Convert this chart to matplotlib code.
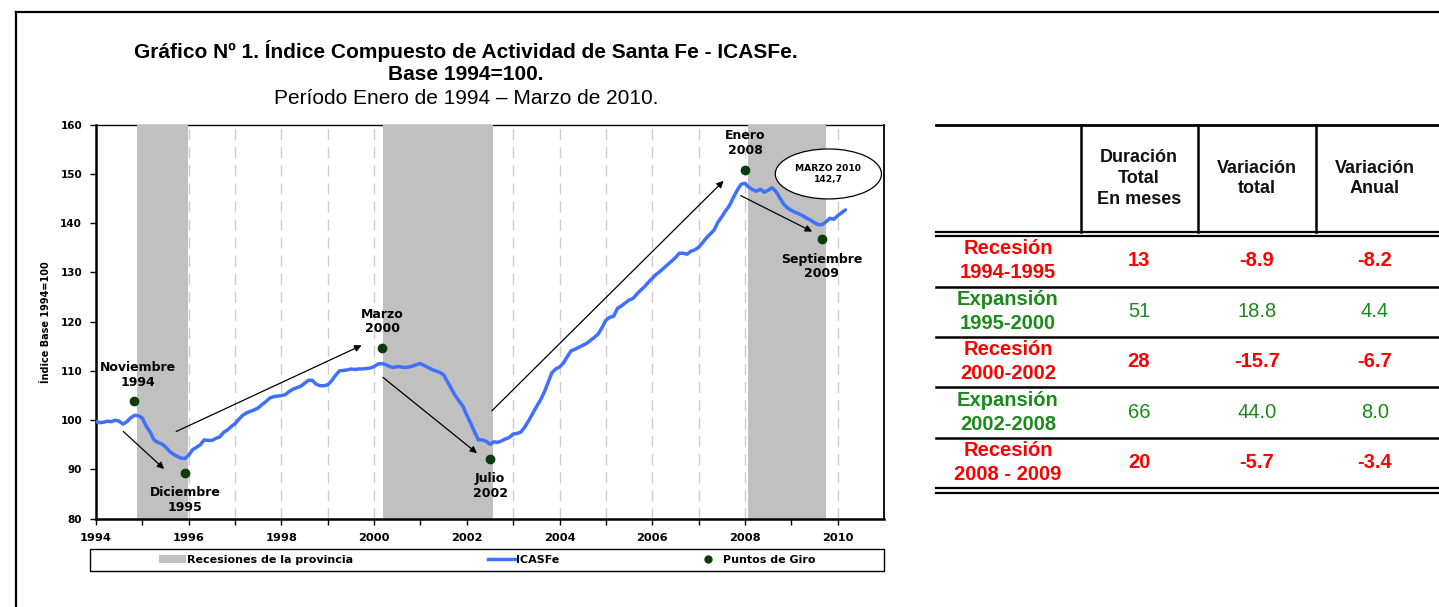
import numpy as np
import matplotlib
matplotlib.use('Agg')
import matplotlib.pyplot as plt
from matplotlib.patches import Ellipse, Rectangle, Patch
from matplotlib.lines import Line2D

W, H = 1439, 607

# ---------------- data ----------------
start_year = 1994
icasfe = [
    # 1994
    99.7, 99.5, 99.6, 99.8, 99.7, 100.0, 99.8, 99.2, 99.7, 100.5, 101.0, 100.9,
    # 1995
    100.4, 98.8, 97.6, 96.0, 95.5, 95.2, 94.6, 93.7, 93.1, 92.7, 92.3, 92.2,
    # 1996
    92.9, 94.0, 94.5, 95.0, 96.0, 95.9, 95.9, 96.3, 96.6, 97.5, 98.0, 98.7,
    # 1997
    99.3, 100.2, 101.0, 101.5, 101.8, 102.1, 102.5, 103.2, 103.8, 104.5, 104.8, 104.9,
    # 1998
    105.0, 105.2, 105.8, 106.3, 106.6, 106.9, 107.5, 108.1, 108.1, 107.3, 107.0, 107.0,
    # 1999
    107.2, 108.0, 109.1, 110.0, 110.1, 110.2, 110.4, 110.3, 110.4, 110.4, 110.5, 110.6,
    # 2000
    110.9, 111.4, 111.5, 111.3, 110.9, 110.7, 110.9, 110.8, 110.7, 110.8, 111.0, 111.3,
    # 2001
    111.5, 111.1, 110.7, 110.3, 110.0, 109.7, 109.2, 107.8, 106.4, 105.0, 103.9, 102.8,
    # 2002
    101.0, 99.4, 97.6, 96.0, 96.0, 95.7, 95.1, 95.6, 95.5, 95.8, 96.2, 96.5,
    # 2003
    97.2, 97.3, 97.6, 98.6, 99.9, 101.3, 102.7, 104.0, 105.6, 107.6, 109.6, 110.4,
    # 2004
    110.8, 111.6, 112.9, 114.1, 114.4, 114.8, 115.2, 115.6, 116.2, 116.8, 117.5, 118.8,
    # 2005
    120.3, 120.9, 121.1, 122.7, 123.2, 123.8, 124.4, 124.7, 125.6, 126.4, 127.1, 128.0,
    # 2006
    128.8, 129.6, 130.2, 130.9, 131.6, 132.3, 133.0, 133.9, 133.9, 133.7, 134.3, 134.6,
    # 2007
    135.1, 136.0, 137.0, 137.8, 138.6, 140.2, 141.3, 142.5, 143.6, 145.2, 146.7, 147.9,
    # 2008
    148.1, 147.3, 146.8, 146.5, 146.9, 146.3, 146.7, 147.2, 146.5, 145.2, 143.9, 143.1,
    # 2009
    142.6, 142.2, 141.9, 141.5, 141.0, 140.6, 140.1, 139.7, 139.7, 140.3, 141.0, 140.8,
    # 2010
    141.5, 142.1, 142.7,
]

rec_start = [1994.88, 2000.20, 2008.06]
rec_end = [1995.98, 2002.56, 2009.74]

turn_x = [1994.83, 1995.91, 2000.17, 2002.50, 2008.00, 2009.66]
turn_y = [104.0, 89.3, 114.6, 92.2, 150.9, 136.7]
turn_labels = ['Noviembre\n1994', 'Diciembre\n1995', 'Marzo\n2000',
               'Julio\n2002', 'Enero\n2008', 'Septiembre\n2009']
label_x = [1994.90, 1995.92, 2000.18, 2002.50, 2008.00, 2009.66]
label_y = [109.2, 83.8, 120.0, 86.6, 156.3, 131.2]

arrow_from = [(1994.59, 97.7), (1995.73, 97.7), (2000.19, 108.7), (2002.54, 101.9), (2007.91, 145.6)]
arrow_to = [(1995.47, 90.1), (1999.73, 115.2), (2002.22, 93.3), (2007.54, 148.6), (2009.45, 138.3)]

last_label = 'MARZO 2010\n142,7'

x_ticks = list(range(1994, 2011))
x_ticklabels = [str(y) if y % 2 == 0 else '' for y in x_ticks]
y_ticks = [80, 90, 100, 110, 120, 130, 140, 150, 160]

table_rows = ['Recesión\n1994-1995', 'Expansión\n1995-2000', 'Recesión\n2000-2002',
              'Expansión\n2002-2008', 'Recesión\n2008 - 2009']
table_kind = ['rec', 'exp', 'rec', 'exp', 'rec']
duracion = [13, 51, 28, 66, 20]
var_total = [-8.9, 18.8, -15.7, 44.0, -5.7]
var_anual = [-8.2, 4.4, -6.7, 8.0, -3.4]
headers = ['Duración\nTotal\nEn meses', 'Variación\ntotal', 'Variación\nAnual']

# ---------------- figure ----------------
fig = plt.figure(figsize=(W / 100, H / 100), dpi=100)
fig.patch.set_facecolor('white')


def fx(px):
    return px / W


def fy(py):
    return 1 - py / H


VERD = 'DejaVu Sans'
ARIAL = 'Liberation Sans'

# outer frame
fig.add_artist(Line2D([fx(16), 1.0], [fy(12), fy(12)], color='black', lw=1.6))
fig.add_artist(Line2D([fx(16), fx(16)], [fy(12), 0.0], color='black', lw=1.6))

# titles
fig.text(fx(466), fy(51), 'Gráfico Nº 1. Índice Compuesto de Actividad de Santa Fe - ICASFe.',
         ha='center', va='center', fontsize=15, fontweight='bold', family=ARIAL)
fig.text(fx(466), fy(74), 'Base 1994=100.', ha='center', va='center',
         fontsize=15, fontweight='bold', family=ARIAL)
fig.text(fx(466), fy(98), 'Período Enero de 1994 – Marzo de 2010.', ha='center', va='center',
         fontsize=15, family=ARIAL)

# axes
left, right, top, bottom = 96, 884, 124.7, 518.7
ax = fig.add_axes([fx(left), fy(bottom), fx(right - left), (bottom - top) / H])
ax.set_xlim(1994, 2011)
ax.set_ylim(80, 160)

xs = start_year + np.arange(len(icasfe)) / 12.0

for yr in x_ticks[1:]:
    ax.axvline(yr, color='#CCCCCC', lw=1.0, ls=(0, (8, 5)), zorder=0.5)
for s, e in zip(rec_start, rec_end):
    ax.axvspan(s, e, color='#C0C0C0', lw=0, zorder=2.6)

ax.plot(xs, icasfe, color='#4070FF', lw=2.5, zorder=4, solid_capstyle='round')
ax.plot(turn_x, turn_y, 'o', color='#0A3D0A', ms=6, zorder=5)

for t, lx, ly in zip(turn_labels, label_x, label_y):
    ax.text(lx, ly, t, ha='center', va='center', fontsize=9, fontweight='bold',
            family=VERD, linespacing=1.15, zorder=6)

for a, b in zip(arrow_from, arrow_to):
    ax.annotate('', xy=b, xytext=a,
                arrowprops=dict(arrowstyle='-|>', color='black', lw=0.9,
                                mutation_scale=10, shrinkA=0, shrinkB=0), zorder=6)

ell = Ellipse((2009.8, 150.0), 2.29, 10.15, facecolor='white', edgecolor='black',
              lw=0.9, zorder=7, clip_on=False)
ax.add_patch(ell)
ax.text(2009.8, 150.0, last_label, ha='center', va='center', fontsize=6.6,
        fontweight='bold', family=VERD, linespacing=1.35, zorder=8)

ax.set_xticks(x_ticks)
ax.set_xticklabels(x_ticklabels, fontsize=8.2, fontweight='bold', family=VERD)
ax.set_yticks(y_ticks)
ax.set_yticklabels([str(v) for v in y_ticks], fontsize=7.5, fontweight='bold', family=VERD)
ax.tick_params(axis='both', direction='out', length=4, width=1, color='black', pad=6)
ax.set_ylabel('Índice Base 1994=100', fontsize=7, fontweight='bold', family=VERD, labelpad=7)

ax.spines['left'].set_linewidth(1.8)
ax.spines['bottom'].set_linewidth(1.8)
ax.spines['top'].set_linewidth(1.0)
ax.spines['right'].set_linewidth(1.3)
ax.spines['bottom'].set_zorder(3)
ax.spines['left'].set_zorder(3)
ax.spines['right'].set_zorder(3)

# legend
fig.add_artist(Rectangle((fx(90), fy(571)), fx(884 - 90), 22 / H, transform=fig.transFigure,
                         facecolor='white', edgecolor='black', lw=1.0))
handles = [Patch(facecolor='#C0C0C0', edgecolor='none'),
           Line2D([0], [0], color='#4070FF', lw=2.5),
           Line2D([0], [0], marker='o', color='#0A3D0A', ls='none', ms=5)]
leg = fig.legend(handles, ['Recesiones de la provincia', 'ICASFe', 'Puntos de Giro'],
                 loc='center', bbox_to_anchor=(fx(487), fy(560)), ncol=3, frameon=False,
                 columnspacing=12.2, handlelength=2.4, handletextpad=0.1,
                 prop=dict(family=VERD, weight='bold', size=8))

# ---------------- table ----------------
tl, tr = 936, 1439
col_x = [1081, 1197.5, 1316]
fig.add_artist(Line2D([fx(tl), fx(tr)], [fy(125), fy(125)], color='black', lw=2.0))
for cx in col_x:
    fig.add_artist(Line2D([fx(cx), fx(cx)], [fy(125), fy(232)], color='black', lw=1.8))
for yy in (231.5, 235.8, 488.3, 492.5):
    fig.add_artist(Line2D([fx(tl), fx(tr)], [fy(yy), fy(yy)], color='black', lw=1.6))
for yy in (286.7, 336.7, 386.7, 437.7):
    fig.add_artist(Line2D([fx(tl), fx(tr)], [fy(yy), fy(yy)], color='black', lw=1.8))

hdr_cx = [1139, 1256.7, 1375]
hdr_cy = [178.5, 178.5, 178.5]
for h, cx, cy in zip(headers, hdr_cx, hdr_cy):
    fig.text(fx(cx), fy(cy), h, ha='center', va='center', fontsize=13, fontweight='bold',
             family=ARIAL, color='#111111', linespacing=1.3)

row_cy = [260.7, 311.7, 361.7, 412.7, 462.7]
RED = '#FF0000'
GREEN = '#1A8A1A'
for lab, kind, d, vt, va, cy in zip(table_rows, table_kind, duracion, var_total, var_anual, row_cy):
    col = RED if kind == 'rec' else GREEN
    wv = 'bold' if kind == 'rec' else 'normal'
    fig.text(fx(1008), fy(cy), lab, ha='center', va='center', fontsize=14.5, fontweight='bold',
             family=ARIAL, color=col, linespacing=1.3)
    for cx, val in zip(hdr_cx, [str(d), f'{vt:.1f}', f'{va:.1f}']):
        fig.text(fx(cx), fy(cy), val, ha='center', va='center', fontsize=14.5, fontweight=wv,
                 family=ARIAL, color=col)

fig.savefig('out.png', dpi=100, facecolor='white')
